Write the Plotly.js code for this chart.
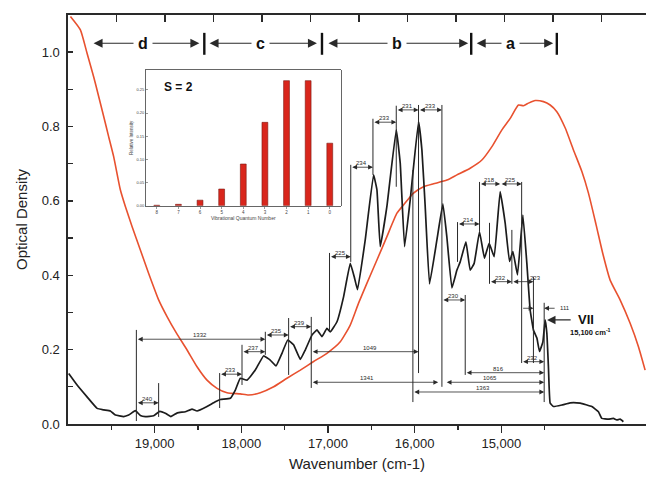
<!DOCTYPE html>
<html>
<head>
<meta charset="utf-8">
<script src="https://cdn.plot.ly/plotly-3.0.1.min.js"></script>
<style>
html,body{margin:0;padding:0;background:#fff;overflow:hidden}
#chart{width:646px;height:480px}
</style>
</head>
<body>
<div id="chart"></div>
<script>
// Absorption spectrum (black trace): wavenumber in cm-1, optical density
const absWavenumber = [19992,19895,19780,19664,19588,19511,19453,19358,19300,19223,19165,19107,19012,18942,18877,18813,18738,18646,18569,18511,18396,18300,18242,18127,18069,18012,17934,17839,17743,17666,17600,17531,17464,17397,17319,17262,17185,17127,17069,17012,16973,16896,16820,16743,16697,16659,16570,16474,16435,16397,16320,16212,16166,16116,16051,15955,15916,15878,15828,15743,15674,15628,15570,15512,15474,15408,15359,15313,15251,15194,15140,15082,15013,14955,14905,14866,14813,14751,14705,14667,14629,14589,14559,14520,14494,14474,14456,14436,14398,14301,14205,14089,13955,13879,13840,13764,13706,13667,13629,13591];
const absOD = [0.136,0.105,0.073,0.042,0.038,0.035,0.024,0.020,0.024,0.036,0.023,0.020,0.022,0.034,0.029,0.020,0.030,0.033,0.040,0.035,0.047,0.060,0.066,0.069,0.091,0.123,0.118,0.145,0.183,0.172,0.156,0.190,0.226,0.213,0.174,0.199,0.239,0.253,0.235,0.257,0.248,0.275,0.342,0.432,0.396,0.361,0.495,0.670,0.630,0.477,0.585,0.791,0.701,0.477,0.603,0.813,0.737,0.585,0.377,0.495,0.592,0.503,0.366,0.414,0.436,0.490,0.414,0.432,0.517,0.446,0.486,0.450,0.625,0.540,0.437,0.464,0.401,0.562,0.432,0.307,0.253,0.231,0.195,0.221,0.280,0.244,0.154,0.056,0.047,0.051,0.057,0.056,0.047,0.033,0.015,0.013,0.015,0.011,0.013,0.006];

// Second spectrum (red trace)
const redWavenumber = [19972,19857,19780,19704,19646,19588,19531,19473,19396,19338,19261,19165,19069,18954,18857,18750,18626,18511,18396,18280,18165,18012,17916,17781,17627,17473,17319,17166,17012,16858,16743,16647,16550,16435,16320,16204,16128,16013,15897,15782,15628,15512,15359,15224,15108,14993,14897,14802,14744,14686,14609,14513,14436,14359,14262,14167,14070,13994,13905,13825,13744,13629,13513,13417,13340];
const redOD = [1.096,1.060,0.997,0.934,0.881,0.827,0.773,0.719,0.630,0.585,0.531,0.468,0.405,0.334,0.289,0.245,0.199,0.154,0.118,0.096,0.084,0.081,0.078,0.084,0.100,0.123,0.145,0.168,0.190,0.221,0.266,0.325,0.379,0.441,0.504,0.567,0.589,0.621,0.638,0.646,0.656,0.670,0.688,0.710,0.746,0.791,0.822,0.858,0.856,0.863,0.870,0.867,0.858,0.840,0.796,0.737,0.679,0.621,0.535,0.455,0.387,0.334,0.271,0.208,0.145];

// Inset: vibrational progression, S = 2
const quantumLabels = ['8','7','6','5','4','3','2','1','0'];
const relIntensity = [0.001,0.003,0.012,0.036,0.090,0.180,0.270,0.270,0.135];

// Region bands along the top
const bandLabels = ['d','c','b','a'];
const bandStart = [19722,18384,17012,15301];
const bandEnd = [18484,17127,15382,14401];
const bandMid = [19130,17781,16204,14897];
const bandDividers = [18427,17069,15347,14359];

// Spacing dimensions (cm-1 label, from, to, level in OD)
const spacingText = ['240','1332','233','237','235','239','1049','1341','1065','1363','816','225','234','233','231','233','230','214','218','225','232','223','232'];
const spacingFrom = [19211,19211,18250,17992,17723,17454,17193,17193,15647,16020,15416,16982,16737,16481,16212,15955,15685,15505,15251,15013,15136,14878,14765];
const spacingTo   = [18954,17723,17992,17723,17454,17193,15955,15728,14505,14505,14505,16737,16481,16212,15955,15685,15416,15251,15013,14765,14878,14629,14505];
const spacingLevel = [0.057,0.228,0.134,0.1945,0.2394,0.2618,0.1945,0.1122,0.1122,0.0861,0.138,0.450,0.6906,0.8117,0.8448,0.8448,0.3336,0.538,0.6457,0.6457,0.3828,0.3828,0.1676];
const spacingLabelX = [null,18473,null,null,null,null,16512,16547,15128,15209,15036,null,null,null,null,null,null,null,null,null,null,14609,null];

// Reference lines dropped from the peaks
const refX  = [19211,18954,18250,17992,17723,17454,17193,16982,16737,16481,16212,16020,15955,15685,15505,15416,15251,15136,14878,14765,14629,14505];
const refLo = [0.008,0.019,0.043,0.105,0.186,0.132,0.097,0.253,0.436,0.670,0.638,0.059,0.137,0.100,0.436,0.132,0.517,0.377,0.377,0.164,0.164,0.059];
const refHi = [0.253,0.110,0.137,0.213,0.248,0.285,0.288,0.460,0.697,0.821,0.856,0.683,0.858,0.858,0.543,0.347,0.651,0.541,0.522,0.651,0.396,0.326];

const FONT = 'Liberation Sans, Arial, Helvetica, sans-serif';
const INK = '#2a2a2a';

const traces = [
  {x: redWavenumber, y: redOD, type: 'scatter', mode: 'lines',
   line: {color: '#e8512f', width: 1.6, shape: 'spline', smoothing: 0.5},
   hoverinfo: 'skip', showlegend: false},
  {x: absWavenumber, y: absOD, type: 'scatter', mode: 'lines',
   line: {color: '#1c1c1c', width: 1.7, shape: 'spline', smoothing: 0.3},
   hoverinfo: 'skip', showlegend: false},
  {x: quantumLabels, y: relIntensity, type: 'bar', xaxis: 'x2', yaxis: 'y2',
   marker: {color: '#d9261c', line: {color: '#7a1a12', width: 0.6}},
   width: 0.27, hoverinfo: 'skip', showlegend: false},
  // carrier for the top frame axis
  {x: [null], y: [null], type: 'scatter', mode: 'lines', xaxis: 'x3', yaxis: 'y',
   hoverinfo: 'skip', showlegend: false}
];

const shapes = [];
const annotations = [];

refX.forEach((x, i) => {
  shapes.push({type: 'line', xref: 'x', yref: 'y', x0: x, x1: x, y0: refLo[i], y1: refHi[i],
               line: {color: INK, width: 1}});
});
bandDividers.forEach(x => {
  shapes.push({type: 'line', xref: 'x', yref: 'y', x0: x, x1: x, y0: 0.993, y1: 1.052,
               line: {color: '#111', width: 2.4}});
});

function arrow(x0, x1, y, both, w, s) {
  return {x: x1, y: y, ax: x0, ay: y, xref: 'x', yref: 'y', axref: 'x', ayref: 'y',
          text: '', showarrow: true, arrowhead: 2, startarrowhead: 2,
          arrowside: both ? 'end+start' : 'end', arrowsize: s, startarrowsize: s,
          arrowwidth: w, arrowcolor: INK, standoff: 0, startstandoff: 0};
}

spacingText.forEach((t, i) => {
  annotations.push(arrow(spacingFrom[i], spacingTo[i], spacingLevel[i], true, 0.8, 1.2));
});
// 111 spacing shown with two inward arrows
annotations.push(arrow(14765, 14629, 0.3113, false, 0.8, 1.2));
annotations.push(arrow(14367, 14505, 0.3113, false, 0.8, 1.2));
// VII marker
annotations.push(arrow(14182, 14471, 0.2798, false, 1.2, 1.4));

spacingText.forEach((t, i) => {
  const lx = spacingLabelX[i] !== null ? spacingLabelX[i] : (spacingFrom[i] + spacingTo[i]) / 2;
  annotations.push({x: lx, y: spacingLevel[i], xref: 'x', yref: 'y', text: t, showarrow: false,
                    yanchor: 'bottom', borderpad: 0, yshift: 0,
                    font: {family: FONT, size: 6, color: INK}});
});
annotations.push({x: 14350, y: 0.3113, xref: 'x', yref: 'y', text: '111', showarrow: false,
                  xanchor: 'left', font: {family: FONT, size: 6, color: INK}});
annotations.push({x: 14136, y: 0.2798, xref: 'x', yref: 'y', text: '<b>VII</b>', showarrow: false,
                  xanchor: 'left', font: {family: FONT, size: 13, color: '#111'}});
annotations.push({x: 14235, y: 0.247, xref: 'x', yref: 'y', text: '<b>15,100 cm<sup>-1</sup></b>', showarrow: false,
                  xanchor: 'left', font: {family: FONT, size: 7.5, color: '#111'}});

bandLabels.forEach((t, i) => {
  annotations.push(arrow(bandStart[i], bandEnd[i], 1.024, true, 1.2, 1.5));
});
bandLabels.forEach((t, i) => {
  annotations.push({x: bandMid[i], y: 1.024, xref: 'x', yref: 'y', text: '<b>' + t + '</b>',
                    showarrow: false, bgcolor: '#ffffff', borderpad: 4,
                    font: {family: FONT, size: 16, color: '#111'}});
});

annotations.push({x: 0.162, y: 0.825, xref: 'paper', yref: 'paper', text: '<b>S = 2</b>',
                  showarrow: false, xanchor: 'left', yanchor: 'middle',
                  font: {family: FONT, size: 12, color: '#111'}});

const layout = {
  width: 646, height: 480,
  margin: {l: 68, r: 0, t: 15, b: 56},
  paper_bgcolor: '#ffffff', plot_bgcolor: '#ffffff',
  font: {family: FONT, color: '#222'},
  showlegend: false,
  xaxis: {
    range: [20000, 13330], autorange: false,
    tickvals: [19000, 18000, 17000, 16000, 15000], tickformat: ',d',
    ticks: 'outside', ticklen: 7, tickwidth: 1.4, tickcolor: INK,
    minor: {tickvals: [19500, 18500, 17500, 16500, 15500, 14500], ticks: 'outside', ticklen: 4, tickwidth: 1.2, tickcolor: INK},
    showline: true, linecolor: INK, linewidth: 1.6,
    showgrid: false, zeroline: false,
    tickfont: {family: FONT, size: 13, color: '#222'},
    title: {text: 'Wavenumber (cm-1)', font: {family: FONT, size: 15, color: '#222'}, standoff: 8}
  },
  xaxis3: {
    overlaying: 'x', side: 'top', anchor: 'y',
    range: [0, 11.918], autorange: false, dtick: 1, tick0: 0,
    ticks: 'inside', ticklen: 7, tickwidth: 1.4, tickcolor: INK,
    showticklabels: false, showline: true, linecolor: INK, linewidth: 1.6,
    showgrid: false, zeroline: false
  },
  yaxis: {
    range: [0, 1.1], autorange: false, dtick: 0.2, tick0: 0, tickformat: '.1f',
    ticks: 'inside', ticklen: 5, tickwidth: 1.4, tickcolor: INK,
    minor: {dtick: 0.1, ticks: 'inside', ticklen: 5, tickwidth: 1.2, tickcolor: INK},
    showline: true, linecolor: INK, linewidth: 1.6,
    showgrid: false, zeroline: false,
    ticklabelstandoff: 4,
    tickfont: {family: FONT, size: 13, color: '#222'},
    title: {text: 'Optical Density', font: {family: FONT, size: 15, color: '#222'}, standoff: 10}
  },
  xaxis2: {
    domain: [0.1349, 0.4716], anchor: 'y2', type: 'category',
    range: [-0.5, 8.5], autorange: false,
    ticks: 'outside', ticklen: 2, tickwidth: 0.6, tickcolor: '#555',
    showline: true, mirror: true, linecolor: '#555', linewidth: 0.9,
    showgrid: false, zeroline: false,
    tickfont: {family: FONT, size: 4.5, color: '#444'},
    title: {text: 'Vibrational Quantum Number', font: {family: FONT, size: 5, color: '#444'}, standoff: 2}
  },
  yaxis2: {
    domain: [0.5337, 0.8655], anchor: 'x2',
    range: [0, 0.293], autorange: false, dtick: 0.05, tickformat: '.2f',
    ticks: 'inside', ticklen: 2, tickwidth: 0.6, tickcolor: '#555',
    showline: true, mirror: true, linecolor: '#555', linewidth: 0.9,
    showgrid: false, zeroline: false,
    tickfont: {family: FONT, size: 4, color: '#444'},
    title: {text: 'Relative Intensity', font: {family: FONT, size: 4.5, color: '#444'}, standoff: 2}
  },
  shapes: shapes,
  annotations: annotations
};

Plotly.newPlot('chart', traces, layout, {staticPlot: true, displayModeBar: false});
</script>
</body>
</html>
